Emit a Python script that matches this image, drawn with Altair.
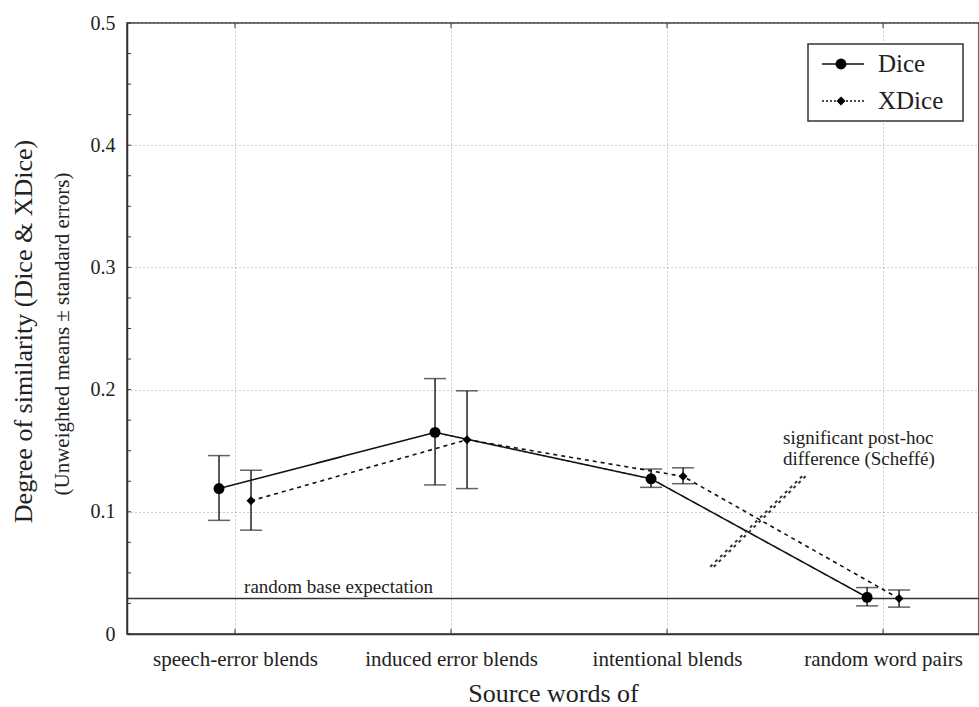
import json
import altair as alt
import pandas as pd

# ---------------- data ----------------
categories = ["speech-error blends", "induced error blends", "intentional blends", "random word pairs"]
series = ["Dice", "XDice"]
dice_mean = [0.119, 0.165, 0.127, 0.030]
dice_lo = [0.093, 0.122, 0.120, 0.023]
dice_hi = [0.146, 0.209, 0.135, 0.038]
xdice_mean = [0.109, 0.159, 0.129, 0.029]
xdice_lo = [0.085, 0.119, 0.123, 0.022]
xdice_hi = [0.134, 0.199, 0.136, 0.036]
base_expectation = 0.029
y_major_ticks = [0.0, 0.1, 0.2, 0.3, 0.4, 0.5]
y_minor_ticks = [0.025, 0.05, 0.075, 0.125, 0.15, 0.175, 0.225, 0.25, 0.275,
                 0.325, 0.35, 0.375, 0.425, 0.45, 0.475]
x_positions = [0, 1, 2, 3]
scheffe_x = [2.20, 2.63]
scheffe_y = [0.055, 0.130]
base_label = "random base expectation"
scheffe_label = ["significant post-hoc", "difference (Scheffé)"]
y_title = "Degree of similarity (Dice & XDice)"
y_subtitle = "(Unweighted means \u00b1 standard errors)"
x_title = "Source words of"

FONT = "Liberation Serif"
INK = "#222222"

rows = []
for s, m, lo, hi in [(series[0], dice_mean, dice_lo, dice_hi),
                     (series[1], xdice_mean, xdice_lo, xdice_hi)]:
    for i, c in enumerate(categories):
        rows.append({"idx": i, "category": c, "series": s, "mean": m[i], "lo": lo[i], "hi": hi[i]})
df = pd.DataFrame(rows)

xscale = alt.Scale(domain=[-0.5, 3.444], nice=False, zero=False)
yscale = alt.Scale(domain=[0, 0.5], nice=False, zero=False)

cats_js = json.dumps(categories)

xaxis = alt.Axis(values=x_positions, labelExpr=f"{cats_js}[datum.value]",
                 title=x_title, titleFont=FONT, titleFontSize=26, titleFontWeight="normal",
                 titleColor=INK, titleY=59, titleBaseline="middle",
                 labelFont=FONT, labelFontSize=21, labelColor=INK, labelPadding=14,
                 ticks=False, domainColor="#333333", domainWidth=1.5,
                 grid=True, gridDash=[1, 3], gridColor="#9a9a9a", gridWidth=1)
yaxis = alt.Axis(values=y_major_ticks, format="~g", title=y_title,
                 titleFont=FONT, titleFontSize=26, titleFontWeight="normal", titleColor=INK,
                 titleX=-104, titleY=308, titleAlign="center", titleBaseline="middle", titleAngle=270,
                 labelFont=FONT, labelFontSize=20, labelColor=INK, labelPadding=12,
                 ticks=False, domainColor="#333333", domainWidth=1.5,
                 grid=True, gridDash=[1, 3], gridColor="#9a9a9a", gridWidth=1)


def X(field):
    return alt.X(field, scale=xscale, axis=xaxis)


def Y(field):
    return alt.Y(field, scale=yscale, axis=yaxis)


base = alt.Chart(df)

axis_holder = alt.Chart(pd.DataFrame({"x": x_positions, "v": [0, 0, 0, 0]})).mark_point(opacity=0).encode(
    x=X("x:Q"), y=Y("v:Q"))

# base expectation line
base_rule = alt.Chart(pd.DataFrame({"v": [base_expectation]})).mark_rule(
    color="#333333", strokeWidth=1.5
).encode(y=Y("v:Q"))

layers = [axis_holder, base_rule]

styles = {
    series[0]: dict(offset=-16, dash=[1, 0], shape="circle", size=120),
    series[1]: dict(offset=16, dash=[4, 4], shape="diamond", size=80),
}
for s in series:
    st = styles[s]
    sub = base.transform_filter(alt.datum.series == s)
    layers.append(sub.mark_line(color="#111111", strokeWidth=1.6, strokeDash=st["dash"],
                                xOffset=st["offset"]).encode(x=X("idx:Q"), y=Y("mean:Q")))
    layers.append(sub.mark_rule(color=INK, strokeWidth=1.5, xOffset=st["offset"]).encode(
        x=X("idx:Q"), y=Y("lo:Q"), y2="hi:Q"))
    for f in ["lo", "hi"]:
        layers.append(sub.mark_tick(orient="horizontal", color=INK, thickness=1.5, size=22,
                                    xOffset=st["offset"]).encode(x=X("idx:Q"), y=Y(f"{f}:Q")))
    layers.append(sub.mark_point(shape=st["shape"], size=st["size"], filled=True, color="#000000",
                                 opacity=1, xOffset=st["offset"]).encode(x=X("idx:Q"), y=Y("mean:Q")))

# inward ticks
ytick_df = pd.DataFrame({"t": y_major_ticks + y_minor_ticks})
layers.append(alt.Chart(ytick_df).mark_rule(color="#333333", strokeWidth=1).encode(
    x=alt.value(0), x2=alt.value(4), y=Y("t:Q")))
xtick_df = pd.DataFrame({"t": x_positions})
layers.append(alt.Chart(xtick_df).mark_rule(color="#333333", strokeWidth=1).encode(
    x=X("t:Q"), y=alt.value(606), y2=alt.value(611)))
layers.append(alt.Chart(xtick_df).mark_rule(color="#333333", strokeWidth=1).encode(
    x=X("t:Q"), y=alt.value(0), y2=alt.value(5)))

# Scheffé double dashed marker
sch_df = pd.DataFrame({"x": scheffe_x, "y": scheffe_y})
for off in [0, 3.5]:
    layers.append(alt.Chart(sch_df).mark_line(color="#333333", strokeWidth=2, strokeDash=[3, 4],
                                              xOffset=off).encode(x=X("x:Q"), y=Y("y:Q")))

# annotations
ann_df = pd.DataFrame({"x": [0.042, 2.537], "y": [0.0336, 0.1555],
                       "label": [base_label, scheffe_label]})
layers.append(alt.Chart(ann_df).mark_text(align="left", baseline="alphabetic", font=FONT,
                                          fontSize=19, color=INK, lineHeight=21).encode(
    x=X("x:Q"), y=Y("y:Q"), text="label"))

# y subtitle
one = pd.DataFrame({"a": [0]})
layers.append(alt.Chart(one).mark_text(angle=270, font=FONT, fontSize=21, color=INK,
                                       align="center", baseline="middle").encode(
    x=alt.value(-64), y=alt.value(311), text=alt.value(y_subtitle)))

# manual legend
layers.append(alt.Chart(one).mark_rect(fill="white", stroke="#333333", strokeWidth=1.5).encode(
    x=alt.value(681), x2=alt.value(836), y=alt.value(21), y2=alt.value(98)))
leg_y = [41, 78]
leg_dash = [[1, 0], [2, 2]]
for s, yy, dsh in zip(series, leg_y, leg_dash):
    st = styles[s]
    layers.append(alt.Chart(one).mark_rule(color="#111111", strokeWidth=1.5, strokeDash=dsh).encode(
        x=alt.value(695), x2=alt.value(737), y=alt.value(yy)))
    layers.append(alt.Chart(one).mark_point(shape=st["shape"], size=st["size"], filled=True,
                                            color="#000000", opacity=1).encode(
        x=alt.value(714), y=alt.value(yy)))
    layers.append(alt.Chart(one).mark_text(align="left", baseline="middle", font=FONT,
                                           fontSize=25, color=INK).encode(
        x=alt.value(751), y=alt.value(yy), text=alt.value(s)))

chart = alt.layer(*layers).properties(
    width=852, height=611,
    padding={"left": 127, "top": 23, "right": 0, "bottom": 73},
    autosize=alt.AutoSizeParams(type="none"),
    background="white",
).configure_view(stroke="#333333", strokeWidth=1.5)

chart.save("out.html", embed_options={"renderer": "svg", "actions": False})
